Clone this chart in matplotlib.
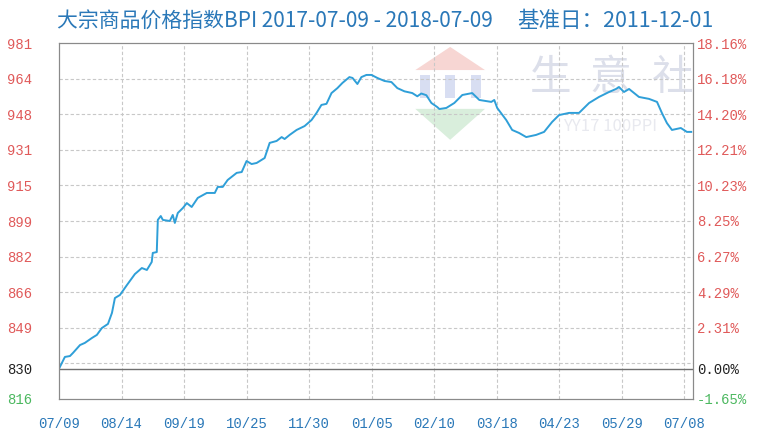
import numpy as np
import matplotlib.pyplot as plt
from matplotlib.patches import Polygon, Rectangle

plt.rcParams['font.family'] = ['Noto Sans CJK SC', 'DejaVu Sans']

# index values (day offset from 2017-07-09, BPI)
days = [0, 3.4, 6.3, 8.0, 12.1, 14.9, 19.0, 21.8, 24.7, 28.2, 30.5, 32.2, 35.1, 39.1,
        43.7, 47.7, 50.6, 53.4, 54.0, 56.3, 56.9, 58.6, 59.8, 63.8, 65.5, 66.7, 68.4,
        71.3, 73.6, 76.4, 79.9, 85.1, 89.7, 91.4, 94.3, 97.1, 102.3, 105.2, 108.0,
        110.9, 113.8, 118.4, 121.3, 125.3, 128.2, 129.9, 132.8, 136.8, 141.4, 145.4,
        148.3, 151.1, 154.0, 156.9, 160.3, 163.2, 167.2, 169.0, 171.8, 174.1, 177.0,
        179.9, 183.3, 187.4, 191.4, 194.8, 198.9, 203.4, 206.3, 208.6, 211.5, 214.4,
        217.8, 219.0, 223.0, 227.6, 232.2, 237.9, 242.0, 248.9, 250.6, 252.3, 257.5,
        260.9, 264.9, 269.0, 274.7, 279.3, 283.9, 287.9, 293.7, 299.4, 305.2, 310.9,
        316.7, 320.7, 322.4, 325.3, 328.2, 333.9, 339.7, 344.3, 347.1, 350.0, 352.9,
        358.0, 361.5, 364.0]
bpi = [830.0, 835.5, 835.9, 837.3, 841.0, 842.0, 844.3, 845.7, 848.9, 850.8, 855.9,
       862.8, 864.2, 868.8, 873.9, 876.7, 875.8, 879.5, 883.7, 884.1, 899.0, 900.8,
       899.0, 898.5, 901.3, 897.6, 902.2, 904.5, 906.8, 905.0, 909.2, 911.5, 911.5,
       914.3, 914.3, 917.5, 920.8, 921.2, 926.3, 924.9, 925.4, 927.7, 934.7, 935.6,
       937.4, 936.5, 938.4, 940.7, 942.5, 945.3, 948.6, 952.3, 952.8, 957.8, 960.1,
       962.5, 965.2, 964.8, 962.0, 965.2, 966.2, 966.2, 964.8, 963.4, 962.9, 960.1,
       958.6, 957.8, 956.3, 957.6, 956.8, 953.2, 951.3, 950.4, 950.9, 953.2, 956.9,
       957.8, 954.6, 953.7, 954.6, 950.9, 945.3, 940.7, 939.3, 937.4, 938.4, 939.8,
       944.4, 947.6, 948.6, 948.6, 953.2, 956.0, 958.3, 959.7, 960.6, 958.3, 959.7,
       956.0, 955.1, 953.7, 948.6, 943.9, 940.7, 941.6, 939.8, 939.8]

x_ticks = [0, 36, 72, 108, 144, 180, 216, 252, 288, 324, 360]
x_labels = ['07/09', '08/14', '09/19', '10/25', '11/30', '01/05',
            '02/10', '03/18', '04/23', '05/29', '07/08']

y_ticks = [981, 964.5, 948, 931.5, 915, 898.5, 882, 865.5, 849, 830, 816]
y_left = ['981', '964', '948', '931', '915', '899', '882', '866', '849', '830', '816']
y_right = ['18.16%', '16.18%', '14.20%', '12.21%', '10.23%', '8.25%', '6.27%',
           '4.29%', '2.31%', '0.00%', '-1.65%']
grid_y = [964.5, 948, 931.5, 915, 898.5, 882, 865.5, 849, 832.5]
base = 830

red = '#e05a5a'
green = '#4cb860'
blue = '#2a78b8'

fig = plt.figure(figsize=(7.68, 4.42), dpi=100)
ax = fig.add_axes([0.0768, 0.0973, 0.8255, 0.8054])
ax.set_xlim(0, 365)
ax.set_ylim(816, 981)

# watermark (logo + site name)
ax.add_patch(Polygon([[0.562, 0.924], [0.617, 0.989], [0.672, 0.924]], closed=True,
                     transform=ax.transAxes, color='#f7d6d3', lw=0, zorder=0))
for bx in [0.569, 0.609, 0.650]:
    ax.add_patch(Rectangle((bx, 0.845), 0.016, 0.065, transform=ax.transAxes,
                           color='#d8def2', lw=0, zorder=0))
ax.add_patch(Polygon([[0.562, 0.815], [0.617, 0.728], [0.672, 0.815]], closed=True,
                     transform=ax.transAxes, color='#d9eedc', lw=0, zorder=0))
for cx, ch in zip([0.775, 0.870, 0.968], ['生', '意', '社']):
    ax.text(cx, 0.90, ch, transform=ax.transAxes, ha='center', va='center',
            fontsize=30, color='#dcdfea', zorder=0)
ax.text(0.87, 0.765, 'YY17 100PPI', transform=ax.transAxes, ha='center', va='center',
        fontsize=12, color='#e8e9ef', zorder=0)

for gy in grid_y:
    ax.axhline(gy, color='#c8c8c8', lw=0.8, ls=(0, (3, 2)), zorder=1)
for gx in x_ticks[1:]:
    ax.axvline(gx, color='#c8c8c8', lw=0.8, ls=(0, (3, 2)), zorder=1)
ax.axhline(base, color='#707070', lw=1.0, zorder=2)

ax.plot(days, bpi, color='#2f9fd8', lw=1.4, zorder=3)

for s in ax.spines.values():
    s.set_color('#8a8a8a')

ax.set_xticks(x_ticks)
ax.set_xticklabels(x_labels, family='Liberation Mono', fontsize=10, color=blue)
ax.tick_params(axis='x', length=0, pad=13)

ax.set_yticks(y_ticks)
ax.set_yticklabels(y_left, family='Liberation Mono', fontsize=10)
ax.tick_params(axis='y', length=0, pad=19)

ax2 = ax.twinx()
ax2.set_ylim(816, 981)
ax2.set_yticks(y_ticks)
ax2.set_yticklabels(y_right, family='Liberation Mono', fontsize=10)
ax2.tick_params(axis='y', length=0, pad=3)
for s in ax2.spines.values():
    s.set_color('#8a8a8a')

for lbls in [ax.get_yticklabels(), ax2.get_yticklabels()]:
    for i, t in enumerate(lbls):
        if y_ticks[i] > base:
            t.set_color(red)
        elif y_ticks[i] == base:
            t.set_color('#222222')
        else:
            t.set_color(green)

fig.text(0.074, 0.953, '大宗商品价格指数BPI 2017-07-09 - 2018-07-09', fontsize=15,
         color=blue, ha='left', va='center')
fig.text(0.673, 0.953, '基准日：2011-12-01', fontsize=15.5,
         color=blue, ha='left', va='center')

fig.savefig('out.png', dpi=100)
